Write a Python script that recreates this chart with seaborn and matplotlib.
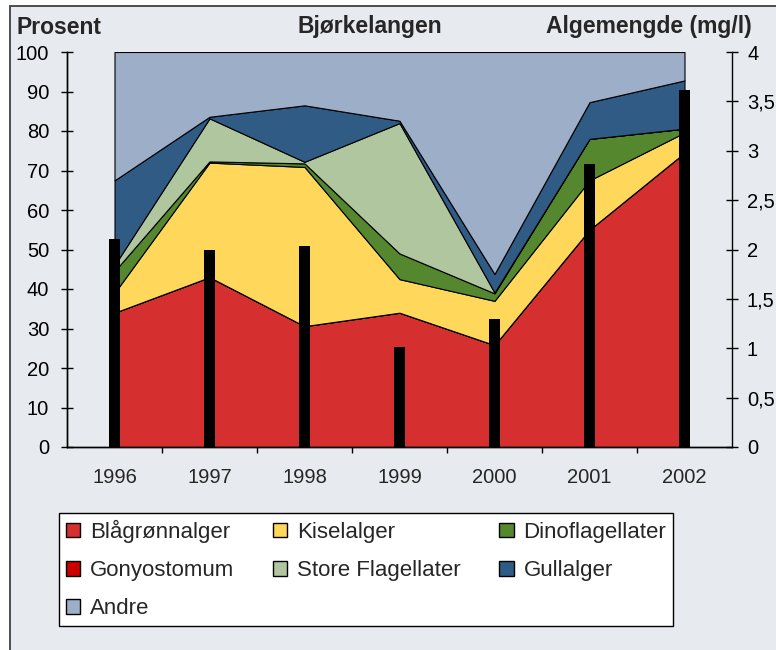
import numpy as np
import pandas as pd
import matplotlib
matplotlib.use("Agg")
import matplotlib.pyplot as plt
import seaborn as sns
from matplotlib.patches import Rectangle, Patch

# -----------------------------
# Data
# -----------------------------
years = ["1996", "1997", "1998", "1999", "2000", "2001", "2002"]

# percent share per group, stacked bottom -> top
blagronnalger = [34.0, 43.0, 30.6, 34.0, 25.8, 55.0, 74.5]
gonyostomum = [0.0, 0.0, 0.0, 0.0, 0.0, 0.0, 0.0]
kiselalger = [5.0, 29.0, 40.3, 8.5, 11.2, 12.5, 5.1]
dinoflagellater = [5.5, 0.3, 0.9, 6.5, 1.9, 10.5, 1.0]
store_flagellater = [1.5, 10.9, 0.4, 33.0, 0.2, 0.0, 0.0]
gullalger = [21.5, 0.4, 14.3, 0.6, 4.7, 9.3, 12.2]
andre = [32.5, 16.4, 13.5, 17.4, 56.2, 12.7, 7.2]

# total algae amount (mg/l), right axis
algemengde = [2.11, 2.0, 2.04, 1.01, 1.30, 2.87, 3.62]

labels = ["Blågrønnalger", "Gonyostomum", "Kiselalger", "Dinoflagellater",
          "Store Flagellater", "Gullalger", "Andre"]
colors = ["#D62F2F", "#CC0000", "#FFD75A", "#55882E",
          "#AFC69E", "#2F5B85", "#9DAFC8"]

bg = "#E7EAEF"

# -----------------------------
# Figure
# -----------------------------
sns.set_style("ticks")
plt.rcParams["font.family"] = ["Liberation Sans", "DejaVu Sans"]

fig = plt.figure(figsize=(7.76, 6.5), dpi=100, facecolor="white")
fig.patches.append(Rectangle((10 / 776, -0.1), 1.2, 644 / 650 + 0.1,
                             transform=fig.transFigure, facecolor=bg,
                             edgecolor="#404040", linewidth=1.3, zorder=-10))

ax = fig.add_axes([67 / 776, 203 / 650, 665 / 776, 395 / 650])
ax.set_facecolor("none")

x = np.arange(len(years))
layers = [blagronnalger, gonyostomum, kiselalger, dinoflagellater,
          store_flagellater, gullalger, andre]
ax.stackplot(x, layers, colors=colors, edgecolor="black", linewidth=0.8)

ax2 = ax.twinx()
df = pd.DataFrame({"year": years, "mg": algemengde})
sns.barplot(data=df, x="year", y="mg", ax=ax2, color="black",
            width=0.11, saturation=1, linewidth=0)
ax2.set_xlabel("")
ax2.set_ylabel("")
ax.set_xlabel("")

# axes limits and ticks
ax.set_xlim(-0.5, 6.5)
ax.set_ylim(0, 100)
ax2.set_ylim(0, 4)
ax.set_yticks(np.arange(0, 101, 10))
right_ticks = np.arange(0, 4.01, 0.5)
ax2.set_yticks(right_ticks)
ax2.set_yticklabels([f"{v:g}".replace(".", ",") for v in right_ticks])

ax.set_xticks(np.arange(0.5, 6, 1))
ax.set_xticklabels([])
ax.set_xticks(x, minor=True)
ax.set_xticklabels(years, minor=True)

tick_kw = dict(direction="inout", length=8.6, width=1, color="black",
               labelsize=14.5, labelcolor="black")
ax.tick_params(axis="y", pad=8.5, **tick_kw)
ax2.tick_params(axis="y", pad=6.5, **tick_kw)
ax.tick_params(axis="x", which="major", **tick_kw)
ax.tick_params(axis="x", which="minor", length=0, pad=15, labelsize=14.5)

for a in (ax, ax2):
    a.spines["top"].set_visible(False)
    for s in ("left", "right", "bottom"):
        a.spines[s].set_color("black")
        a.spines[s].set_linewidth(1)
ax.spines["right"].set_visible(False)

# titles
fig.text(16 / 776, 1 - 27 / 650, "Prosent", ha="left", va="center",
         fontsize=16.5, fontweight="bold")
fig.text(370 / 776, 1 - 27 / 650, "Bjørkelangen", ha="center", va="center",
         fontsize=16.5, fontweight="bold")
fig.text(752 / 776, 1 - 27 / 650, "Algemengde (mg/l)", ha="right", va="center",
         fontsize=16.5, fontweight="bold")

# legend (row-major order like the original)
handles = [Patch(facecolor=c, edgecolor="black", linewidth=1) for c in colors]
order = [0, 1, 6, 2, 4, 3, 5]
leg = fig.legend([handles[i] for i in order], [labels[i] for i in order],
                 ncol=3, loc="upper left",
                 bbox_to_anchor=(59 / 776, 19 / 650, 614 / 776, 118 / 650),
                 bbox_transform=fig.transFigure, mode="expand",
                 borderaxespad=0, fontsize=16, handlelength=0.65,
                 handleheight=0.65, handletextpad=0.45, labelspacing=0.78,
                 borderpad=0.3, columnspacing=0.5, fancybox=False,
                 framealpha=1, edgecolor="black")
leg.get_frame().set_linewidth(1)

fig.savefig("out.png", dpi=100, facecolor=fig.get_facecolor())
